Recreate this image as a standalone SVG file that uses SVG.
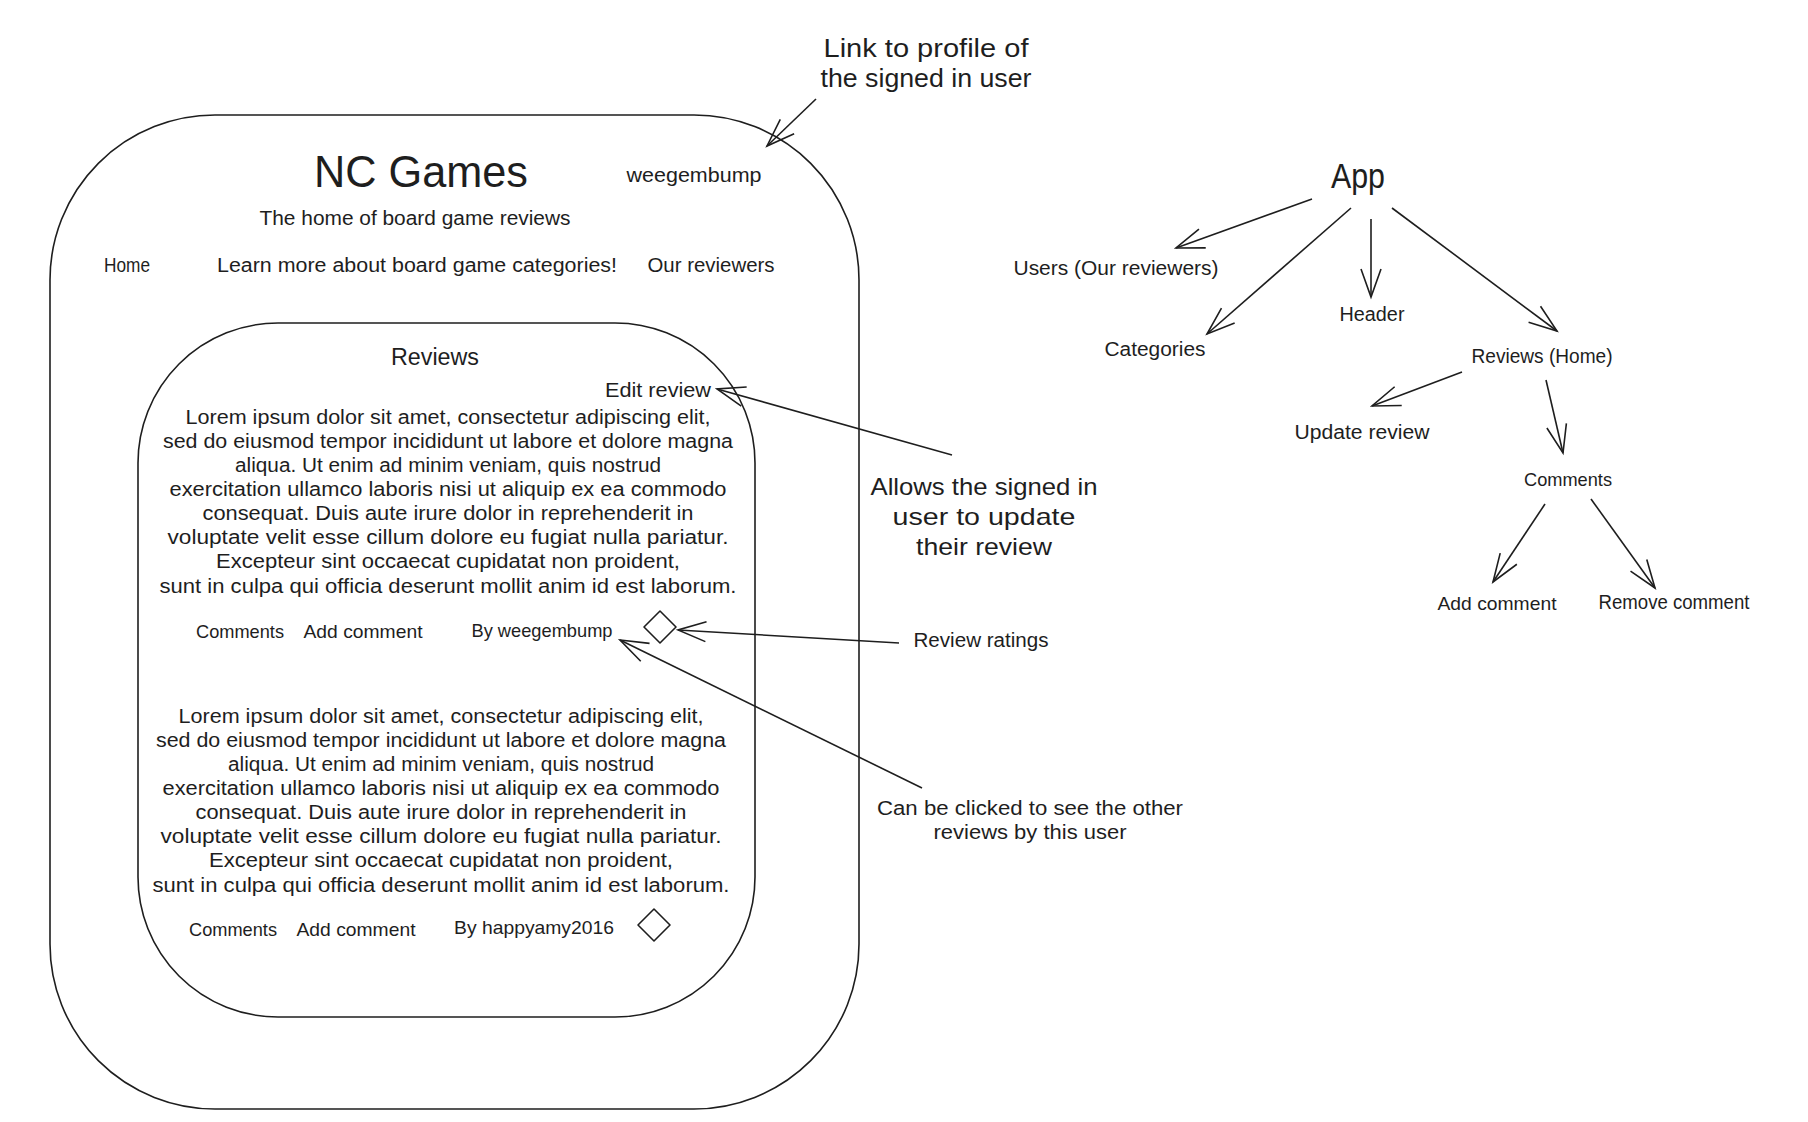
<svg xmlns="http://www.w3.org/2000/svg" width="1808" height="1122" viewBox="0 0 1808 1122">
<style>
text{font-family:"Liberation Sans","DejaVu Sans",sans-serif;fill:#1e1e1e;text-anchor:middle;dominant-baseline:central}
.box{fill:none;stroke:#1e1e1e;stroke-width:1.6}
.c{fill:none;stroke:#1e1e1e;stroke-width:1.6;marker-end:url(#ah)}
.s18{font-size:19px}.s20{font-size:20px}.s24{font-size:24px}.s25{font-size:25px}
</style>
<defs>
<marker id="ah" markerUnits="userSpaceOnUse" markerWidth="40" markerHeight="40" viewBox="-32 -16 40 32" refX="0" refY="0" orient="auto" overflow="visible">
<path d="M-28,-10 L0,0 L-28,10" fill="none" stroke="#1e1e1e" stroke-width="1.6"/>
</marker>
</defs>
<rect width="1808" height="1122" fill="#ffffff"/>

<g id="outer-frame">
<rect class="box" x="50" y="115" width="809" height="994" rx="165" ry="165"/>
</g>
<g id="header">
<text x="421" y="171" style="font-size:44px" textLength="214" lengthAdjust="spacingAndGlyphs">NC Games</text>
<text x="694" y="175" class="s20" textLength="135" lengthAdjust="spacingAndGlyphs">weegembump</text>
<text x="415" y="218" class="s20" textLength="311" lengthAdjust="spacingAndGlyphs">The home of board game reviews</text>
<text x="127" y="265" class="s20" textLength="46" lengthAdjust="spacingAndGlyphs">Home</text>
<text x="417" y="265" class="s20" textLength="400" lengthAdjust="spacingAndGlyphs">Learn more about board game categories!</text>
<text x="711" y="265" class="s20" textLength="127" lengthAdjust="spacingAndGlyphs">Our reviewers</text>
</g>
<g id="reviews-frame">
<rect class="box" x="138" y="323" width="617" height="694" rx="140" ry="140"/>
<text x="435" y="357" style="font-size:23px" textLength="88" lengthAdjust="spacingAndGlyphs">Reviews</text>
<text x="658" y="390" class="s20" textLength="106" lengthAdjust="spacingAndGlyphs">Edit review</text>
</g>
<g id="review-1" class="s20">
<text x="448" y="417" textLength="525" lengthAdjust="spacingAndGlyphs">Lorem ipsum dolor sit amet, consectetur adipiscing elit,</text>
<text x="448" y="441" textLength="570" lengthAdjust="spacingAndGlyphs">sed do eiusmod tempor incididunt ut labore et dolore magna</text>
<text x="448" y="465" textLength="426" lengthAdjust="spacingAndGlyphs">aliqua. Ut enim ad minim veniam, quis nostrud</text>
<text x="448" y="489" textLength="557" lengthAdjust="spacingAndGlyphs">exercitation ullamco laboris nisi ut aliquip ex ea commodo</text>
<text x="448" y="513" textLength="491" lengthAdjust="spacingAndGlyphs">consequat. Duis aute irure dolor in reprehenderit in</text>
<text x="448" y="537" textLength="561" lengthAdjust="spacingAndGlyphs">voluptate velit esse cillum dolore eu fugiat nulla pariatur.</text>
<text x="448" y="561" textLength="464" lengthAdjust="spacingAndGlyphs">Excepteur sint occaecat cupidatat non proident,</text>
<text x="448" y="586" textLength="577" lengthAdjust="spacingAndGlyphs">sunt in culpa qui officia deserunt mollit anim id est laborum.</text>
<text x="240" y="631" class="s18" textLength="88" lengthAdjust="spacingAndGlyphs">Comments</text>
<text x="363" y="631" class="s18" textLength="119" lengthAdjust="spacingAndGlyphs">Add comment</text>
<text x="542" y="630" class="s18" textLength="141" lengthAdjust="spacingAndGlyphs">By weegembump</text>
<path class="box" d="M660,611 L676,627 L660,643 L644,627 Z" stroke-linejoin="round"/>
</g>
<g id="review-2" class="s20">
<text x="441" y="716" textLength="525" lengthAdjust="spacingAndGlyphs">Lorem ipsum dolor sit amet, consectetur adipiscing elit,</text>
<text x="441" y="740" textLength="570" lengthAdjust="spacingAndGlyphs">sed do eiusmod tempor incididunt ut labore et dolore magna</text>
<text x="441" y="764" textLength="426" lengthAdjust="spacingAndGlyphs">aliqua. Ut enim ad minim veniam, quis nostrud</text>
<text x="441" y="788" textLength="557" lengthAdjust="spacingAndGlyphs">exercitation ullamco laboris nisi ut aliquip ex ea commodo</text>
<text x="441" y="812" textLength="491" lengthAdjust="spacingAndGlyphs">consequat. Duis aute irure dolor in reprehenderit in</text>
<text x="441" y="836" textLength="561" lengthAdjust="spacingAndGlyphs">voluptate velit esse cillum dolore eu fugiat nulla pariatur.</text>
<text x="441" y="860" textLength="464" lengthAdjust="spacingAndGlyphs">Excepteur sint occaecat cupidatat non proident,</text>
<text x="441" y="885" textLength="577" lengthAdjust="spacingAndGlyphs">sunt in culpa qui officia deserunt mollit anim id est laborum.</text>
<text x="233" y="929" class="s18" textLength="88" lengthAdjust="spacingAndGlyphs">Comments</text>
<text x="356" y="929" class="s18" textLength="119" lengthAdjust="spacingAndGlyphs">Add comment</text>
<text x="534" y="927" class="s18" textLength="160" lengthAdjust="spacingAndGlyphs">By happyamy2016</text>
<path class="box" d="M654,909 L670,925 L654,941 L638,925 Z" stroke-linejoin="round"/>
</g>

<g id="note-profile">
<text x="926" y="48" class="s25" textLength="205" lengthAdjust="spacingAndGlyphs">Link to profile of</text>
<text x="926" y="78" class="s25" textLength="211" lengthAdjust="spacingAndGlyphs">the signed in user</text>
</g>
<g id="note-edit">
<text x="984" y="486" class="s24" textLength="227" lengthAdjust="spacingAndGlyphs">Allows the signed in</text>
<text x="984" y="516" class="s24" textLength="183" lengthAdjust="spacingAndGlyphs">user to update</text>
<text x="984" y="546" class="s24" textLength="136" lengthAdjust="spacingAndGlyphs">their review</text>
</g>
<g id="note-ratings">
<text x="981" y="640" class="s20" textLength="135" lengthAdjust="spacingAndGlyphs">Review ratings</text>
</g>
<g id="note-user">
<text x="1030" y="808" class="s20" textLength="306" lengthAdjust="spacingAndGlyphs">Can be clicked to see the other</text>
<text x="1030" y="832" class="s20" textLength="193" lengthAdjust="spacingAndGlyphs">reviews by this user</text>
</g>

<g id="tree-app"><text x="1358" y="175" style="font-size:35px" textLength="54" lengthAdjust="spacingAndGlyphs">App</text></g>
<g id="tree-users"><text x="1116" y="268" class="s20" textLength="205" lengthAdjust="spacingAndGlyphs">Users (Our reviewers)</text></g>
<g id="tree-categories"><text x="1155" y="349" class="s20" textLength="101" lengthAdjust="spacingAndGlyphs">Categories</text></g>
<g id="tree-header"><text x="1372" y="314" class="s20" textLength="65" lengthAdjust="spacingAndGlyphs">Header</text></g>
<g id="tree-reviews"><text x="1542" y="356" class="s20" textLength="141" lengthAdjust="spacingAndGlyphs">Reviews (Home)</text></g>
<g id="tree-update"><text x="1362" y="432" class="s20" textLength="135" lengthAdjust="spacingAndGlyphs">Update review</text></g>
<g id="tree-comments"><text x="1568" y="479" class="s18" textLength="88" lengthAdjust="spacingAndGlyphs">Comments</text></g>
<g id="tree-add"><text x="1497" y="603" class="s18" textLength="119" lengthAdjust="spacingAndGlyphs">Add comment</text></g>
<g id="tree-remove"><text x="1674" y="602" class="s20" textLength="151" lengthAdjust="spacingAndGlyphs">Remove comment</text></g>

<g id="connectors">
<line class="c" x1="816" y1="99" x2="767" y2="146"/>
<line class="c" x1="952" y1="455" x2="717" y2="389"/>
<line class="c" x1="899" y1="643" x2="678" y2="630"/>
<line class="c" x1="922" y1="788" x2="620" y2="640"/>
<line class="c" x1="1312" y1="199" x2="1176" y2="248"/>
<line class="c" x1="1351" y1="208" x2="1207" y2="334"/>
<line class="c" x1="1371" y1="219" x2="1371" y2="297"/>
<line class="c" x1="1392" y1="208" x2="1557" y2="331"/>
<line class="c" x1="1462" y1="372" x2="1372" y2="406"/>
<line class="c" x1="1546" y1="380" x2="1563" y2="453"/>
<line class="c" x1="1545" y1="504" x2="1493" y2="582"/>
<line class="c" x1="1591" y1="499" x2="1655" y2="588"/>
</g>
</svg>
